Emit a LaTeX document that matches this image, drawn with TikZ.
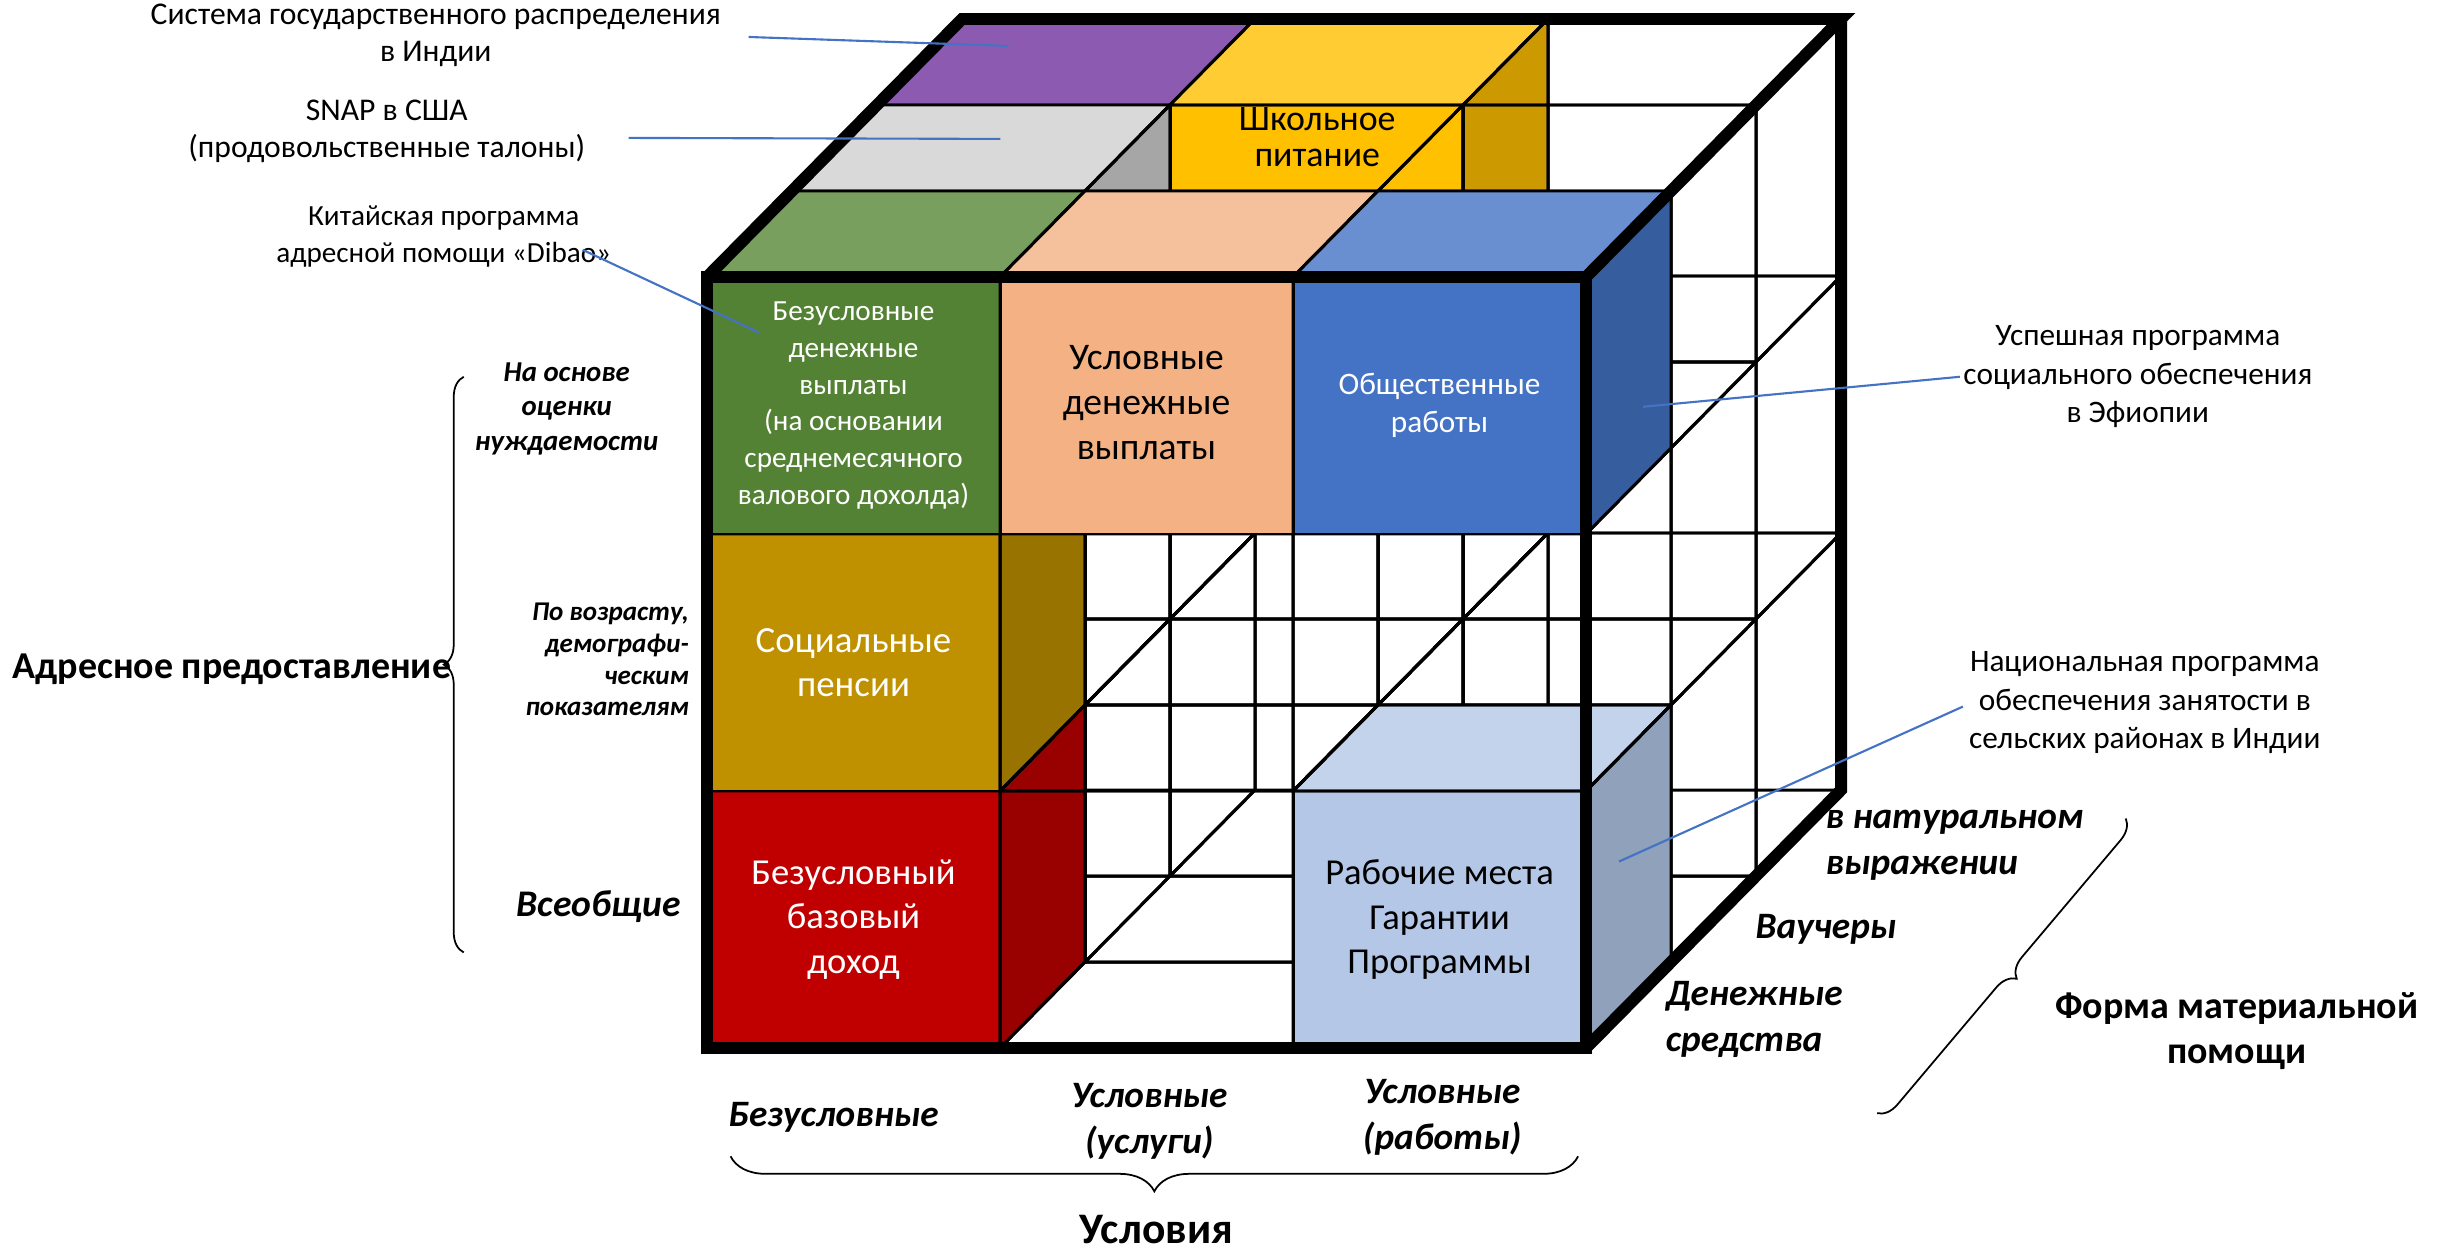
\documentclass[tikz,border=0pt]{standalone}
\usepackage{fontspec}
\setmainfont{Carlito}
\usetikzlibrary{decorations.pathreplacing}
\definecolor{grF}{HTML}{548235}\definecolor{grT}{HTML}{789F5D}\definecolor{grS}{HTML}{3E6127}
\definecolor{peF}{HTML}{F4B183}\definecolor{peT}{HTML}{F5C19C}\definecolor{peS}{HTML}{C48A63}
\definecolor{blF}{HTML}{4472C4}\definecolor{blT}{HTML}{6A8FD0}\definecolor{blS}{HTML}{365E9E}
\definecolor{gyF}{HTML}{BFBFBF}\definecolor{gyT}{HTML}{D9D9D9}\definecolor{gyS}{HTML}{A6A6A6}
\definecolor{puF}{HTML}{7030A0}\definecolor{puT}{HTML}{8C5BB1}\definecolor{puS}{HTML}{5E3A80}
\definecolor{yeF}{HTML}{FFC000}\definecolor{yeT}{HTML}{FFCC33}\definecolor{yeS}{HTML}{CC9A00}
\definecolor{soF}{HTML}{BF9000}\definecolor{soT}{HTML}{D9A800}\definecolor{soS}{HTML}{997300}
\definecolor{reF}{HTML}{C00000}\definecolor{reT}{HTML}{D03030}\definecolor{reS}{HTML}{990000}
\definecolor{lbF}{HTML}{B4C7E7}\definecolor{lbT}{HTML}{C3D3EC}\definecolor{lbS}{HTML}{8FA1BB}
\definecolor{leadc}{HTML}{4472C4}
\newcommand{\fsz}[2]{\fontsize{#1pt}{#2pt}\selectfont}
\tikzset{
  wire/.style={draw=black, line width=0.85pt},
  face/.style={draw=black, line width=0.85pt, line join=round},
  outer/.style={draw=black, line width=3.4pt, line join=miter},
  ann/.style={align=center, inner sep=0pt, font=\fsz{9}{10.5}},
  celltxt/.style={align=center, inner sep=0pt},
  bilab/.style={align=center, inner sep=0pt, font=\bfseries\itshape\fsz{10.6}{13}},
  blab/.style={align=center, inner sep=0pt, font=\bfseries\fsz{10.8}{12.8}},
  lead/.style={draw=leadc, line width=0.6pt},
  brc/.style={decorate, decoration={brace, amplitude=#1}, draw=black, line width=0.5pt},
}
\newcommand{\wirecell}[3]{%
  \pgfmathtruncatemacro{\cxa}{#1+1}\pgfmathtruncatemacro{\cya}{#2+1}\pgfmathtruncatemacro{\cza}{#3+1}%
  \draw[wire] (#1,#2,#3) -- (\cxa,#2,#3) -- (\cxa,\cya,#3) -- (#1,\cya,#3) -- cycle
    (#1,#2,\cza) -- (\cxa,#2,\cza) -- (\cxa,\cya,\cza) -- (#1,\cya,\cza) -- cycle
    (#1,#2,#3) -- (#1,#2,\cza) (\cxa,#2,#3) -- (\cxa,#2,\cza)
    (\cxa,\cya,#3) -- (\cxa,\cya,\cza) (#1,\cya,#3) -- (#1,\cya,\cza);}
\newcommand{\solidcell}[6]{%
  \pgfmathtruncatemacro{\cxa}{#1+1}\pgfmathtruncatemacro{\cya}{#2+1}\pgfmathtruncatemacro{\cza}{#3+1}%
  \filldraw[face, fill=#4] (#1,#2,#3) -- (\cxa,#2,#3) -- (\cxa,\cya,#3) -- (#1,\cya,#3) -- cycle;
  \filldraw[face, fill=#5] (#1,#2,#3) -- (\cxa,#2,#3) -- (\cxa,#2,\cza) -- (#1,#2,\cza) -- cycle;
  \filldraw[face, fill=#6] (\cxa,#2,#3) -- (\cxa,\cya,#3) -- (\cxa,\cya,\cza) -- (\cxa,#2,\cza) -- cycle;}
\begin{document}
\begin{tikzpicture}
\useasboundingbox (0,0) rectangle (24.45,12.49);
\fill[white] (0,0) rectangle (24.45,12.49);
% ---------------- cube ----------------
\begin{scope}[x={(2.93cm,0cm)}, y={(0cm,-2.57cm)}, z={(0.85cm,0.86cm)}, shift={(7.07cm,9.72cm)}]
  % depth 2
  \wirecell{0}{2}{2}\wirecell{1}{2}{2}\wirecell{2}{2}{2}
  \wirecell{0}{1}{2}\wirecell{1}{1}{2}\wirecell{2}{1}{2}
  \solidcell{0}{0}{2}{puF}{puT}{puS}
  \solidcell{1}{0}{2}{yeF}{yeT}{yeS}
  \wirecell{2}{0}{2}
  % depth 1
  \wirecell{0}{2}{1}\wirecell{1}{2}{1}\wirecell{2}{2}{1}
  \wirecell{0}{1}{1}\wirecell{1}{1}{1}\wirecell{2}{1}{1}
  \solidcell{0}{0}{1}{gyF}{gyT}{gyS}
  \wirecell{1}{0}{1}\wirecell{2}{0}{1}
  % depth 0
  \solidcell{0}{2}{0}{reF}{reT}{reS}
  \wirecell{1}{2}{0}
  \solidcell{2}{2}{0}{lbF}{lbT}{lbS}
  \solidcell{0}{1}{0}{soF}{soT}{soS}
  \wirecell{1}{1}{0}\wirecell{2}{1}{0}
  \solidcell{0}{0}{0}{grF}{grT}{grS}
  \solidcell{1}{0}{0}{peF}{peT}{peS}
  \solidcell{2}{0}{0}{blF}{blT}{blS}
  % outer frame
  \draw[outer] (0,0,0) -- (3,0,0) -- (3,3,0) -- (0,3,0) -- cycle;
  \draw[outer] (0,0,0) -- (0,0,3) -- (3,0,3) -- (3,0,0);
  \draw[outer] (3,0,3) -- (3,3,3) -- (3,3,0);
  % cell texts
  \node[celltxt, text=white, font=\fsz{8.3}{10.5}] (ucash) at (0.5,0.5,0)
    {Безусловные\\денежные\\выплаты\\(на основании\\среднемесячного\\валового дохолда)};
  \node[celltxt, font=\fsz{10.7}{12.8}] (ccash) at (1.5,0.49,0) {Условные\\денежные\\выплаты};
  \node[celltxt, text=white, font=\fsz{8.9}{11}] (pubw) at (2.5,0.5,0) {Общественные\\работы};
  \node[celltxt, text=white, font=\fsz{10.5}{12.5}] (spens) at (0.5,1.5,0) {Социальные\\пенсии};
  \node[celltxt, text=white, font=\fsz{10.4}{12.7}] (ubi) at (0.5,2.5,0) {Безусловный\\базовый\\доход};
  \node[celltxt, font=\fsz{10.4}{12.8}] (jobs) at (2.5,2.5,0) {Рабочие места\\Гарантии\\Программы};
\end{scope}
% ---------------- labels (pixel coordinates) ----------------
\begin{scope}[x=0.01cm, y=-0.01cm, shift={(0cm,12.49cm)}]
  \node[celltxt, font=\fsz{10.2}{10.4}] (school) at (1318,137) {Школьное\\питание};
  % annotations
  \node[ann] (pds) at (436,35) {Система государственного распределения\\в Индии};
  \node[ann] (snap) at (387,131) {SNAP в США\\(продовольственные талоны)};
  \node[ann, font=\fsz{8.3}{10.5}] (dibao) at (444,237) {Китайская программа\\адресной помощи «Dibao»};
  \node[ann, font=\fsz{8.9}{10.9}] (eth) at (2139,377) {Успешная программа\\социального обеспечения\\в Эфиопии};
  \node[ann, font=\fsz{8.9}{10.9}] (nreg) at (2146,703) {Национальная программа\\обеспечения занятости в\\сельских районах в Индии};
  \coordinate (l1a) at (749,37);   \coordinate (l1b) at (1009,46);
  \coordinate (l2a) at (629,138);  \coordinate (l2b) at (1001,139);
  \coordinate (l3a) at (583,250);  \coordinate (l3b) at (760,333);
  \coordinate (l4a) at (1961,377); \coordinate (l4b) at (1644,407);
  \coordinate (l5a) at (1964,707); \coordinate (l5b) at (1620,862);
  \draw[lead] (l1a) -- (l1b);
  \draw[lead] (l2a) -- (l2b);
  \draw[lead] (l3a) -- (l3b);
  \draw[lead] (l4a) -- (l4b);
  \draw[lead] (l5a) -- (l5b);
  % left axis
  \node[bilab, font=\bfseries\itshape\fsz{8.2}{9.8}] (needs) at (567,409) {На основе\\оценки\\нуждаемости};
  \node[bilab, align=right, anchor=east, font=\bfseries\itshape\fsz{7.7}{9}] (demo) at (690,660)
    {По возрасту,\\демографи-\\ческим\\показателям};
  \node[bilab, font=\bfseries\itshape\fsz{10.7}{12}] (univ) at (599,907) {Всеобщие};
  \node[blab] (targ) at (232,670) {Адресное предоставление};
  \coordinate (lbA) at (464,953); \coordinate (lbB) at (464,377);
  \draw[brc=0.2cm] (lbA) -- (lbB);
  % bottom axis
  \node[bilab] (unc) at (834,1118) {Безусловные};
  \node[bilab] (cserv) at (1150,1122) {Условные\\(услуги)};
  \node[bilab] (cwork) at (1443,1118) {Условные\\(работы)};
  \coordinate (bbA) at (1579,1157); \coordinate (bbB) at (731,1157);
  \draw[brc=0.35cm] (bbA) -- (bbB);
  \node[blab, font=\bfseries\fsz{12.4}{14}] (cond) at (1157,1230) {Условия};
  % right axis
  \node[bilab, anchor=west, align=left] (kind) at (1826,846) {в натуральном\\выражении};
  \node[bilab, anchor=west, align=left] (vouch) at (1756,930) {Ваучеры};
  \node[bilab, anchor=west, align=left] (cash) at (1666,1020) {Денежные\\средства};
  \coordinate (rbA) at (2127,819); \coordinate (rbB) at (1878,1114);
  \draw[brc=0.2cm] (rbA) -- (rbB);
  \node[blab] (form) at (2238,1032) {Форма материальной\\помощи};
\end{scope}
\end{tikzpicture}
\end{document}
